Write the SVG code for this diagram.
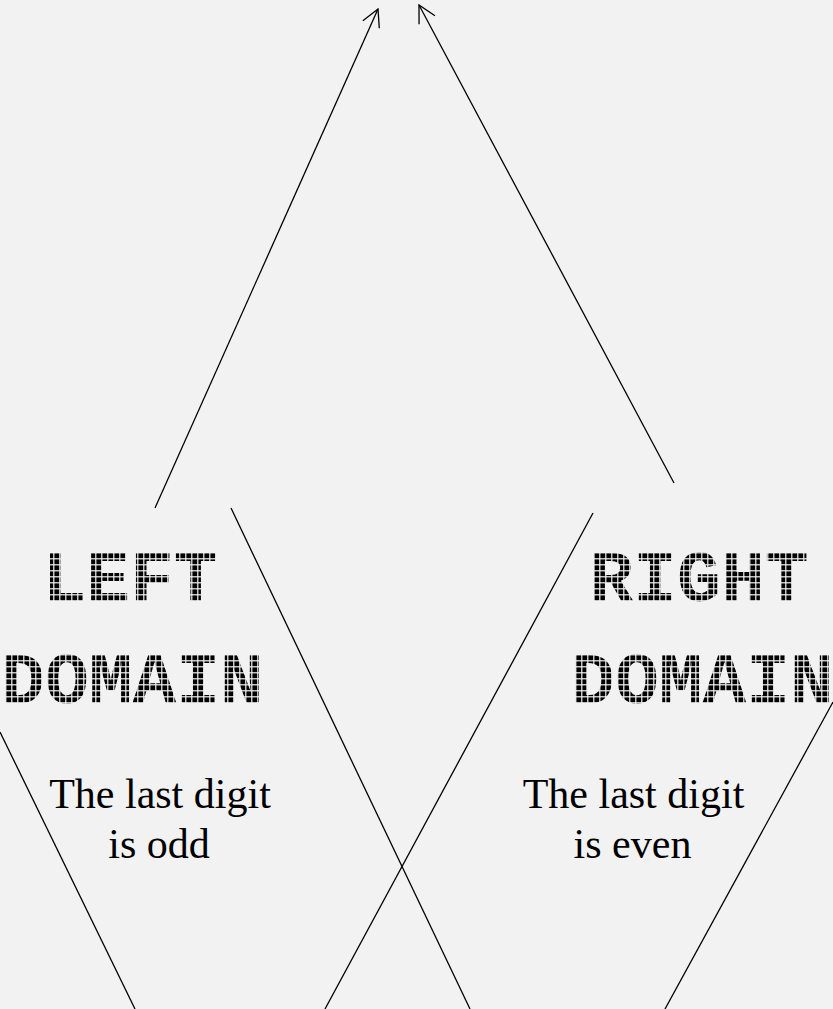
<svg xmlns="http://www.w3.org/2000/svg" width="833" height="1009" viewBox="0 0 833 1009">
  <style>
    .edge { stroke: #000; stroke-width: 1.3; fill: none; }
    .title { font-family: "Liberation Mono", "Courier New", monospace; font-size: 73px; font-weight: bold; fill: url(#dots); text-anchor: middle; }
    .body { font-family: "Liberation Serif", "Times New Roman", serif; font-size: 42px; fill: #000; text-anchor: middle; }
  </style>
  <defs>
    <pattern id="dots" patternUnits="userSpaceOnUse" x="0" y="1" width="6" height="6">
      <rect x="0.4" y="0.4" width="4.8" height="4.8" fill="#000"/>
    </pattern>
    <marker id="arrow" markerUnits="userSpaceOnUse" markerWidth="40" markerHeight="40" refX="0" refY="0" viewBox="-20 -20 40 40" orient="auto" overflow="visible">
      <path d="M-17,-9 L0,0 L-17,9" fill="none" stroke="#000" stroke-width="1.3"/>
    </marker>
  </defs>
  <rect width="833" height="1009" fill="#f2f2f2"/>
  <g id="connectors">
    <line class="edge" x1="155" y1="508" x2="378" y2="9" marker-end="url(#arrow)"/>
    <line class="edge" x1="674" y1="483" x2="419" y2="5" marker-end="url(#arrow)"/>
    <line class="edge" x1="231" y1="508" x2="470" y2="1009"/>
    <line class="edge" x1="593" y1="513" x2="325" y2="1009"/>
    <line class="edge" x1="0" y1="732" x2="135" y2="1009"/>
    <line class="edge" x1="833" y1="702" x2="665" y2="1009"/>
  </g>
  <g id="left-domain">
    <text class="title" x="130" y="601">LEFT</text>
    <text class="title" x="132.5" y="703">DOMAIN</text>
    <text class="body" x="160" y="808">The last digit</text>
    <text class="body" x="159" y="858">is odd</text>
  </g>
  <g id="right-domain">
    <text class="title" x="699" y="601">RIGHT</text>
    <text class="title" x="702.5" y="703">DOMAIN</text>
    <text class="body" x="633.5" y="808">The last digit</text>
    <text class="body" x="632.5" y="858">is even</text>
  </g>
</svg>
